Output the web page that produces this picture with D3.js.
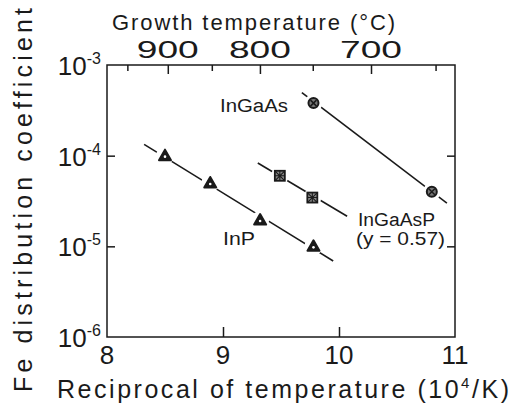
<!DOCTYPE html>
<html><head><meta charset="utf-8">
<script src="https://cdn.jsdelivr.net/npm/d3@7"></script>
<style>
body{margin:0;background:#fff;}
text{font-family:"Liberation Sans","DejaVu Sans",sans-serif;fill:#1a1a1a;}
</style></head>
<body><svg id="c" width="515" height="412"></svg>
<script>
// ---- data ----
const xDomain = [8, 11];
const yDomain = [1e-6, 1e-3];
const bottomTicks = [8, 9, 10, 11];
const leftTicks = [1e-3, 1e-4, 1e-5, 1e-6];
const leftTickExp = ["-3", "-4", "-5", "-6"];
const topTicksC = [950, 900, 850, 800, 750, 700, 650];
const topLabelsC = [900, 800, 700];

const inGaAsX = [9.78, 10.80];
const inGaAsY = [3.8e-4, 4.0e-5];
const inGaAsLineX = [9.68, 10.93];
const inGaAsLineY = [4.95e-4, 3.0e-5];

const inGaAsPX = [9.49, 9.77];
const inGaAsPY = [6.0e-5, 3.45e-5];
const inGaAsPLineX = [9.30, 10.07];
const inGaAsPLineY = [8.3e-5, 2.15e-5];

const inPX = [8.50, 8.89, 9.32, 9.78];
const inPY = [1.0e-4, 5.0e-5, 1.95e-5, 1.0e-5];
const inPLineX = [8.32, 9.95];
const inPLineY = [1.33e-4, 6.9e-6];

// ---- layout ----
const svg = d3.select("#c");
const L = 107, R = 455, T = 65, B = 337;
const x = d3.scaleLinear().domain(xDomain).range([L, R]);
const y = d3.scaleLog().domain(yDomain).range([B, T]);
const ink = "#1a1a1a";

// frame
svg.append("rect").attr("x", L).attr("y", T).attr("width", R - L).attr("height", B - T)
  .attr("fill", "none").attr("stroke", ink).attr("stroke-width", 1.5);

// axes (inward ticks)
const gB = svg.append("g").attr("transform", `translate(0,${B})`)
  .call(d3.axisBottom(x).tickValues([9, 10]).tickSizeInner(-10).tickSizeOuter(0).tickFormat(""));
const gL = svg.append("g").attr("transform", `translate(${L},0)`)
  .call(d3.axisLeft(y).tickValues([1e-4, 1e-5]).tickSizeInner(-8).tickSizeOuter(0).tickFormat(""));
const gR = svg.append("g").attr("transform", `translate(${R},0)`)
  .call(d3.axisRight(y).tickValues([1e-4, 1e-5]).tickSizeInner(-8).tickSizeOuter(0).tickFormat(""));
const toX = c => 1e4 / (c + 273.15);
const xTop = d3.scaleLinear().domain(xDomain).range([L, R]);
const gT = svg.append("g").attr("transform", `translate(0,${T})`)
  .call(d3.axisTop(xTop).tickValues(topTicksC.map(toX)).tickSizeOuter(0).tickFormat(""));
gT.selectAll(".tick line").attr("y2", (d, i) => topLabelsC.includes(topTicksC[i]) ? 9 : 6);
[gB, gL, gR, gT].forEach(g => {
  g.select(".domain").remove();
  g.selectAll(".tick line").attr("stroke", ink).attr("stroke-width", 1.5);
});

// bottom tick labels
svg.selectAll(".bl").data(bottomTicks).enter().append("text")
  .attr("x", d => x(d)).attr("y", 364).attr("text-anchor", "middle")
  .attr("font-size", 26).text(d => d);

// left tick labels 10^n
leftTicks.forEach((v, i) => {
  const t = svg.append("text").attr("x", 101).attr("y", y(v) + 10)
    .attr("text-anchor", "end").attr("font-size", 26);
  t.append("tspan").text("10");
  t.append("tspan").attr("font-size", 16).attr("dy", -11).text(leftTickExp[i]);
});

// top tick labels
svg.selectAll(".tl").data(topLabelsC).enter().append("text")
  .attr("x", d => xTop(toX(d))).attr("y", 58).attr("text-anchor", "middle")
  .attr("font-size", 24).attr("textLength", 62).attr("lengthAdjust", "spacingAndGlyphs")
  .text(d => d);

// axis titles
svg.append("text").attr("x", 112).attr("y", 30).attr("font-size", 22)
  .attr("textLength", 283).attr("lengthAdjust", "spacing").text("Growth temperature (°C)");
const bt = svg.append("text").attr("x", 57).attr("y", 398).attr("font-size", 25)
  .attr("textLength", 452).attr("lengthAdjust", "spacing");
bt.append("tspan").text("Reciprocal of temperature (10");
bt.append("tspan").attr("font-size", 15).attr("dy", -10).text("4");
bt.append("tspan").attr("dy", 10).text("/K)");
svg.append("text").attr("transform", "translate(32,392) rotate(-90)")
  .attr("font-size", 25).attr("textLength", 384).attr("lengthAdjust", "spacing")
  .text("Fe distribution coefficient");

// series
const line = d3.line().x(d => x(d[0])).y(d => y(d[1]));
function series(lx, ly, px, py, shape) {
  svg.append("path").datum(d3.zip(lx, ly)).attr("d", line)
    .attr("fill", "none").attr("stroke", ink).attr("stroke-width", 1.6);
  const pts = d3.zip(px, py);
  svg.selectAll(null).data(pts).enter().append("circle")
    .attr("cx", d => x(d[0])).attr("cy", d => y(d[1])).attr("r", 9).attr("fill", "#fff");
  const g = svg.selectAll(null).data(pts).enter().append("g")
    .attr("transform", d => `translate(${x(d[0])},${y(d[1])})`)
    .attr("stroke", ink).attr("fill", "#fff");
  if (shape === "circle") {
    g.append("circle").attr("r", 5).attr("stroke-width", 2).attr("fill", "#777");
    g.append("path").attr("d", "M-3,-3L3,3M-3,3L3,-3").attr("stroke-width", 1.5);
  } else if (shape === "square") {
    g.append("rect").attr("x", -5).attr("y", -5).attr("width", 10).attr("height", 10)
      .attr("stroke-width", 1.8).attr("fill", "#888");
    g.append("path").attr("d", "M-5,-5L5,5M-5,5L5,-5M0,-5V5M-5,0H5").attr("stroke-width", 1.1);
  } else {
    g.append("path").attr("d", "M0,-6L6,4.5L-6,4.5Z").attr("stroke-width", 2)
      .attr("stroke-linejoin", "round").attr("fill", ink);
    g.append("circle").attr("cy", 1).attr("r", 1.3).attr("fill", "#fff").attr("stroke", "none");
  }
}
series(inGaAsLineX, inGaAsLineY, inGaAsX, inGaAsY, "circle");
series(inGaAsPLineX, inGaAsPLineY, inGaAsPX, inGaAsPY, "square");
series(inPLineX, inPLineY, inPX, inPY, "triangle");

// series labels
const lab = (tx, ty, s, len) => svg.append("text").attr("x", tx).attr("y", ty)
  .attr("font-size", 18).attr("textLength", len).attr("lengthAdjust", "spacingAndGlyphs").text(s);
lab(220, 112, "InGaAs", 68);
lab(223, 245, "InP", 32);
lab(358, 226, "InGaAsP", 77);
lab(356, 245, "(y = 0.57)", 89);
</script></body></html>
